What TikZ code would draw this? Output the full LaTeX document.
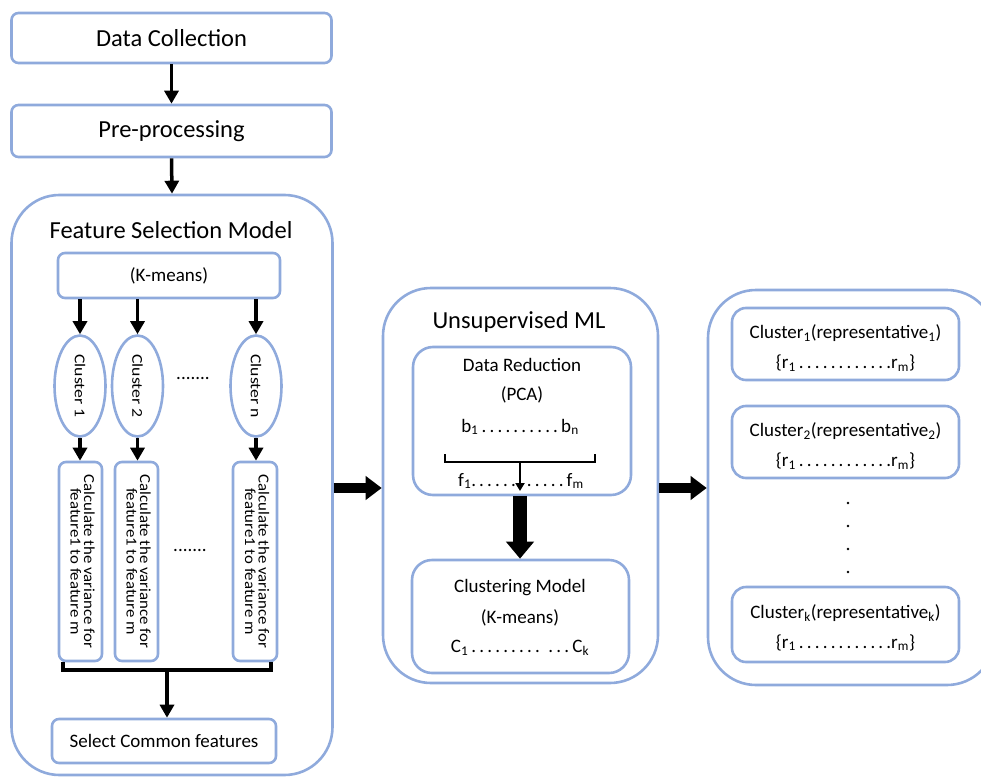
\documentclass[tikz,border=0pt]{standalone}
\usepackage{fontspec}
\setmainfont{Carlito}
\usetikzlibrary{arrows.meta,shapes.geometric}
\definecolor{bl}{RGB}{143,170,220}
\tikzset{
  box/.style={draw=bl, line width=2.6pt, rounded corners=7pt, fill=white, inner sep=0pt},
  bigbox/.style={draw=bl, line width=2.6pt, rounded corners=48pt, inner sep=0pt},
  midbox/.style={draw=bl, line width=2.6pt, rounded corners=20pt, inner sep=0pt},
  ell/.style={draw=bl, line width=2.6pt, ellipse, inner sep=0pt, minimum width=51pt, minimum height=101pt},
  arr/.style={line width=3.5pt, -{Triangle[length=13pt,width=14pt]}},
  bigarr/.style={line width=10pt, -{Triangle[length=16pt,width=23pt]}},
  vbigarr/.style={line width=14pt, -{Triangle[length=17pt,width=27pt]}},
  t21/.style={font=\fontsize{24.5}{28}\selectfont},
  t17/.style={font=\fontsize{19}{30}\selectfont},
  t15/.style={font=\fontsize{15}{18}\selectfont},
  t14/.style={font=\fontsize{15.3}{14.5}\selectfont},
}
\newcommand{\rot}[1]{\scalebox{1.18}[1]{#1}}
\newcommand{\calc}{\scalebox{1.1}[1]{\begin{tabular}{@{}c@{}}Calculate the variance for\\[-1.5pt]feature1 to feature m\end{tabular}}}
\begin{document}
\begin{tikzpicture}[x=1pt,y=-1pt]
\useasboundingbox (0,0) rectangle (981,778);
% left column
\node[box, minimum width=320pt, minimum height=50pt, t21] (dc) at (171.5,38) {Data Collection};
\node[box, minimum width=320pt, minimum height=52pt, t21] (pp) at (171.5,131) {Pre-processing};
\node[bigbox, minimum width=321pt, minimum height=580pt] (fs) at (172,485) {};
\node[t21] (fst) at (171,230) {Feature Selection Model};
\node[box, minimum width=222pt, minimum height=45pt, t17] (km) at (169,275.5) {(K-means)};
\node[ell] (e1) at (80,386) {};
\node[ell] (e2) at (137.5,386) {};
\node[ell] (en) at (256,386) {};
\node[t15, rotate=-90] at (e1) {\rot{Cluster 1}};
\node[t15, rotate=-90] at (e2) {\rot{Cluster 2}};
\node[t15, rotate=-90] at (en) {\rot{Cluster n}};
\node[t17] (d1) at (193,378) {.......};
\node[box, minimum width=43pt, minimum height=199pt] (c1) at (80.5,561.5) {};
\node[box, minimum width=43pt, minimum height=199pt] (c2) at (136.5,561.5) {};
\node[box, minimum width=44pt, minimum height=199pt] (cn) at (255,561.5) {};
\node[t14, rotate=-90, inner sep=0pt] at (c1) {\calc};
\node[t14, rotate=-90, inner sep=0pt] at (c2) {\calc};
\node[t14, rotate=-90, inner sep=0pt] at (cn) {\calc};
\node[t17] (d2) at (190,550) {.......};
\node[box, minimum width=224pt, minimum height=44pt, t17] (sel) at (164,741) {Select Common features};
\draw[arr] (dc.south) -- (pp.north);
\draw[arr] (pp.south) -- (fs.north);
\draw[arr] (km.south -| e1.north) -- (e1.north);
\draw[arr] (km.south -| e2.north) -- (e2.north);
\draw[arr] (km.south -| en.north) -- (en.north);
\draw[arr] (e1.south) -- (e1.south |- c1.north);
\draw[arr] (e2.south) -- (e2.south |- c2.north);
\draw[arr] (en.south) -- (en.south |- cn.north);
\coordinate (mL) at (63,670);
\coordinate (mR) at (271,670);
\coordinate (mM) at (167,670);
\draw[line width=3.5pt] (c1.south -| mL) -- (mL) -- (mR) -- (cn.south -| mR);
\draw[arr] (mM) -- (mM |- sel.north);
% middle
\node[bigbox, minimum width=275pt, minimum height=395pt] (us) at (520.5,485.5) {};
\node[t21] (ust) at (519,322) {Unsupervised ML};
\node[midbox, minimum width=218pt, minimum height=148pt] (dr) at (522,421) {};
\node[t17] at (522,365) {Data Reduction};
\node[t17] at (522,395) {(PCA)};
\node[t17] at (520,427) {b\textsubscript{1}\,.\,.\,.\,.\,.\,.\,.\,.\,.\,.\,b\textsubscript{n}};
\node[t17] at (521,481) {f\textsubscript{1}.\,.\,.\,.\,.\,.\,.\,.\,.\,.\,.\,.\,f\textsubscript{m}};
\draw[line width=2.8pt] (445,454) -- (445,462) -- (595,462) -- (595,454);
\coordinate (br) at (520,462);
\draw[line width=2.5pt, -{Triangle[length=8pt,width=9pt]}] (br) -- (520,491);
\node[midbox, minimum width=217pt, minimum height=113pt] (cm) at (520.5,616.5) {};
\node[t17] at (520,588) {Clustering Model};
\node[t17] at (520,618) {(K-means)};
\node[t17] at (520,648) {C\textsubscript{1}\,.\,.\,.\,.\,.\,.\,.\,.\,.\ \ .\,.\,.\,C\textsubscript{k}};
\draw[vbigarr] (dr.south -| 520,0) -- (cm.north -| 520,0);
% right
\begin{scope}
\clip (0,0) rectangle (981,778);
\node[bigbox, minimum width=287pt, minimum height=395pt] (rb) at (851.5,487.5) {};
\end{scope}
\node[box, rounded corners=14pt, minimum width=227pt, minimum height=72pt] (k1) at (845.5,344) {};
\node[box, rounded corners=14pt, minimum width=227pt, minimum height=72pt] (k2) at (845.5,442) {};
\node[box, rounded corners=14pt, minimum width=227pt, minimum height=75pt] (kk) at (845.5,624.5) {};
\node[t17, align=center] at ([yshift=-4pt]k1.center) {Cluster\textsubscript{1}(representative\textsubscript{1})\\\{r\textsubscript{1}\,.\,.\,.\,.\,.\,.\,.\,.\,.\,.\,.\,.r\textsubscript{m}\}};
\node[t17, align=center] at ([yshift=-4pt]k2.center) {Cluster\textsubscript{2}(representative\textsubscript{2})\\\{r\textsubscript{1}\,.\,.\,.\,.\,.\,.\,.\,.\,.\,.\,.\,.r\textsubscript{m}\}};
\node[t17, align=center] at ([yshift=-3pt]kk.center) {Cluster\textsubscript{k}(representative\textsubscript{k})\\\{r\textsubscript{1}\,.\,.\,.\,.\,.\,.\,.\,.\,.\,.\,.\,.r\textsubscript{m}\}};
\foreach \yy in {503,526,549,572} \fill (848,\yy) circle (1.4pt);
% big arrows
\draw[bigarr] (fs.east |- 0,488) -- (us.west |- 0,488);
\draw[bigarr] (us.east |- 0,488) -- (rb.west |- 0,488);
\end{tikzpicture}
\end{document}
